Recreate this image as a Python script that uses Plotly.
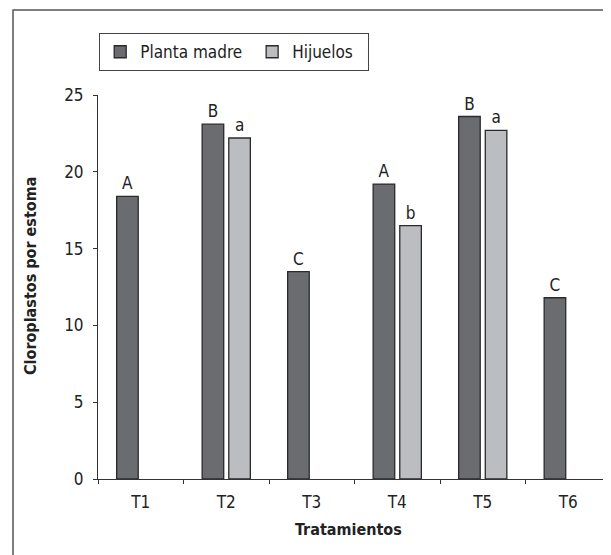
import plotly.graph_objects as go

categories = ["T1", "T2", "T3", "T4", "T5", "T6"]
planta_madre = [18.4, 23.1, 13.5, 19.2, 23.6, 11.8]
hijuelos = [None, 22.2, None, 16.5, 22.7, None]
letters_madre = ["A", "B", "C", "A", "B", "C"]
letters_hijuelos = ["", "a", "", "b", "a", ""]
y_ticks = [0, 5, 10, 15, 20, 25]

FONT = "DejaVu Sans Condensed, Liberation Sans, sans-serif"
OFF = 8  # browser body margin
W, H = 611, 555
# target plot area in page pixels
PX0, PX1, PY0, PY1 = 98, 611, 95, 479
L, T = PX0 - OFF, PY0 - OFF
R = W + OFF - PX1
B = H + OFF - PY1
pw, ph = PX1 - PX0, PY1 - PY0


def px(x):
    return (x - PX0) / pw


def py(y):
    return (PY1 - y) / ph


NB = "\u00a0"

fig = go.Figure()
fig.add_trace(go.Bar(
    name="Planta madre" + NB, x=categories, y=planta_madre,
    marker=dict(color="#6b6c70", line=dict(color="#2a2a2a", width=1.3)),
    text=letters_madre, textposition="outside", cliponaxis=False,
    textfont=dict(family=FONT, size=17, color="#222"),
))
fig.add_trace(go.Bar(
    name="Hijuelos" + NB * 2, x=categories, y=hijuelos,
    marker=dict(color="#bcbdc1", line=dict(color="#2a2a2a", width=1.3)),
    text=letters_hijuelos, textposition="outside", cliponaxis=False,
    textfont=dict(family=FONT, size=17, color="#222"),
))

# outer frame (only top and left visible in reference)
fig.add_shape(type="rect", xref="paper", yref="paper",
              x0=px(13), x1=px(640), y0=py(600), y1=py(10),
              line=dict(color="#555", width=1.5), fillcolor="rgba(0,0,0,0)", layer="below")

fig.add_annotation(text="<b>Cloroplastos por estoma</b>", xref="paper", yref="paper",
                   x=px(30), y=py(276), textangle=-90, showarrow=False,
                   font=dict(family=FONT, size=16, color="#222"), xanchor="center", yanchor="middle")
fig.add_annotation(text="<b>Tratamientos</b>", xref="paper", yref="paper",
                   x=px(348), y=py(529), showarrow=False,
                   font=dict(family=FONT, size=16, color="#222"), xanchor="center", yanchor="middle")

fig.update_layout(
    width=W, height=H,
    margin=dict(l=L, r=R, t=T, b=B),
    paper_bgcolor="white", plot_bgcolor="white",
    barmode="group", bargap=0.377, bargroupgap=0.19,
    font=dict(family=FONT, size=17, color="#222"),
    showlegend=True,
    legend=dict(orientation="h", x=px(99), xanchor="left", y=py(33), yanchor="top",
                bordercolor="#444", borderwidth=1.2, bgcolor="white",
                font=dict(family=FONT, size=17, color="#222")),
    xaxis=dict(showline=True, linecolor="#333", linewidth=1, ticks="outside", ticklen=4,
               tickcolor="#333", tickson="boundaries", showgrid=False, zeroline=False,
               tickfont=dict(family=FONT, size=17, color="#222"), ticklabelstandoff=8),
    yaxis=dict(range=[0, 25], tickvals=y_ticks, showline=True, linecolor="#333", linewidth=1,
               ticks="outside", ticklen=4, tickcolor="#333", showgrid=False, zeroline=False,
               tickfont=dict(family=FONT, size=17, color="#222"), ticklabelstandoff=6),
)

fig.write_html("out.html")
